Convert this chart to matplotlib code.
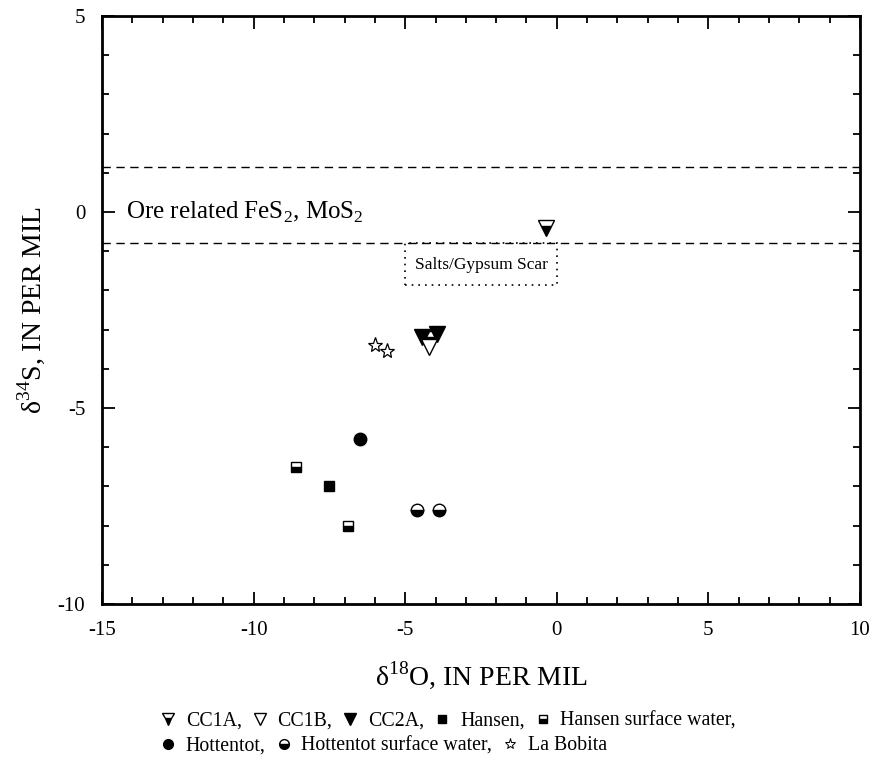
import matplotlib.pyplot as plt
from matplotlib.lines import Line2D
from matplotlib.patches import Rectangle
from matplotlib.ticker import MultipleLocator

plt.rcParams['font.family'] = ['Liberation Serif', 'DejaVu Serif']
plt.rcParams['mathtext.fontset'] = 'custom'
plt.rcParams['mathtext.rm'] = 'Liberation Serif'
plt.rcParams['axes.unicode_minus'] = False

# data (delta18O, delta34S)
cc1a_x = [-0.35, -4.15]
cc1a_y = [-0.42, -3.25]
cc1b_x = [-4.2]
cc1b_y = [-3.45]
cc2a_x = [-4.45, -3.95]
cc2a_y = [-3.2, -3.1]
hansen_x = [-7.5]
hansen_y = [-7.0]
hansen_sw_x = [-8.6, -6.9]
hansen_sw_y = [-6.5, -8.0]
hott_x = [-6.5]
hott_y = [-5.8]
hott_sw_x = [-4.6, -3.9]
hott_sw_y = [-7.6, -7.6]
bobita_x = [-6.0, -5.6]
bobita_y = [-3.4, -3.55]

ore_band = [1.15, -0.8]
salts_box = (-5.0, -1.85, 5.0, 1.05)  # x, y, width, height


def main():
    fig = plt.figure(figsize=(8.74, 7.63), dpi=100)
    ax = fig.add_axes([0.1167, 0.2084, 0.8673, 0.7706])

    for y in ore_band:
        ax.axhline(y, color='black', lw=1, ls=(0, (6, 4)), zorder=1)
    ax.add_patch(Rectangle(salts_box[:2], salts_box[2], salts_box[3],
                           fill=False, ls=(0, (1, 3)), lw=1.2, ec='black', zorder=1))
    ax.text(-2.5, -1.35, 'Salts/Gypsum Scar', ha='center', va='center', fontsize=12.5)
    ax.text(-14.2, 0.0, r'Ore related FeS$_\mathrm{2}$, MoS$_\mathrm{2}$',
            ha='left', va='center', fontsize=18)

    ax.plot(cc2a_x, cc2a_y, 'v', ms=11, color='black', mec='black', ls='none', zorder=3)
    ax.plot(cc1b_x, cc1b_y, 'v', ms=11, mfc='white', mec='black', ls='none', zorder=4)
    ax.plot(cc1a_x, cc1a_y, 'v', ms=11, color='black', fillstyle='bottom',
            mfc='black', mfcalt='white', mec='black', ls='none', zorder=2)
    ax.plot(hansen_x, hansen_y, 's', ms=7.5, color='black', ls='none')
    ax.plot(hansen_sw_x, hansen_sw_y, 's', ms=7.5, fillstyle='bottom', mfc='black',
            mfcalt='white', mec='black', ls='none')
    ax.plot(hott_x, hott_y, 'o', ms=9, color='black', ls='none')
    ax.plot(hott_sw_x, hott_sw_y, 'o', ms=9, fillstyle='bottom', mfc='black',
            mfcalt='white', mec='black', ls='none')
    ax.plot(bobita_x, bobita_y, '*', ms=11, mfc='white', mec='black', mew=0.9, ls='none')

    ax.set_xlim(-15, 10)
    ax.set_ylim(-10, 5)
    ax.xaxis.set_major_locator(MultipleLocator(5))
    ax.xaxis.set_minor_locator(MultipleLocator(1))
    ax.yaxis.set_major_locator(MultipleLocator(5))
    ax.yaxis.set_minor_locator(MultipleLocator(1))
    ax.tick_params(which='both', direction='in', top=True, right=True, width=1.3,
                   labelsize=15)
    ax.tick_params(which='major', length=9, pad=12)
    ax.tick_params(which='minor', length=5)
    for s in ax.spines.values():
        s.set_linewidth(2)

    ax.set_xlabel(r'δ$^\mathrm{18}$O, IN PER MIL', fontsize=20, labelpad=14)
    ax.set_ylabel(r'δ$^\mathrm{34}$S, IN PER MIL', fontsize=20, labelpad=8)

    def h(marker, **kw):
        return Line2D([], [], marker=marker, ls='none', mec='black', **kw)

    row1 = [h('v', ms=8, fillstyle='bottom', mfc='black', mfcalt='white'),
            h('v', ms=8, mfc='white'),
            h('v', ms=8, mfc='black'),
            h('s', ms=6, mfc='black'),
            h('s', ms=6, fillstyle='bottom', mfc='black', mfcalt='white')]
    labels1 = ['CC1A,', 'CC1B,', 'CC2A,', 'Hansen,', 'Hansen surface water,']
    row2 = [h('o', ms=7, mfc='black'),
            h('o', ms=7, fillstyle='bottom', mfc='black', mfcalt='white'),
            h('*', ms=8, mfc='white', mew=0.7)]
    labels2 = ['Hottentot,', 'Hottentot surface water,', 'La Bobita']

    kw = dict(frameon=False, fontsize=14.3, handlelength=0.8, handletextpad=0.5,
              columnspacing=0.5, borderpad=0, borderaxespad=0)
    fig.legend(row1, labels1, ncol=5, loc='center left',
               bbox_to_anchor=(160 / 874, 1 - 721 / 763), **kw)
    fig.legend(row2, labels2, ncol=3, loc='center left',
               bbox_to_anchor=(160 / 874, 1 - 746 / 763), **kw)

    fig.savefig('out.png', dpi=100)


if __name__ == '__main__':
    main()
